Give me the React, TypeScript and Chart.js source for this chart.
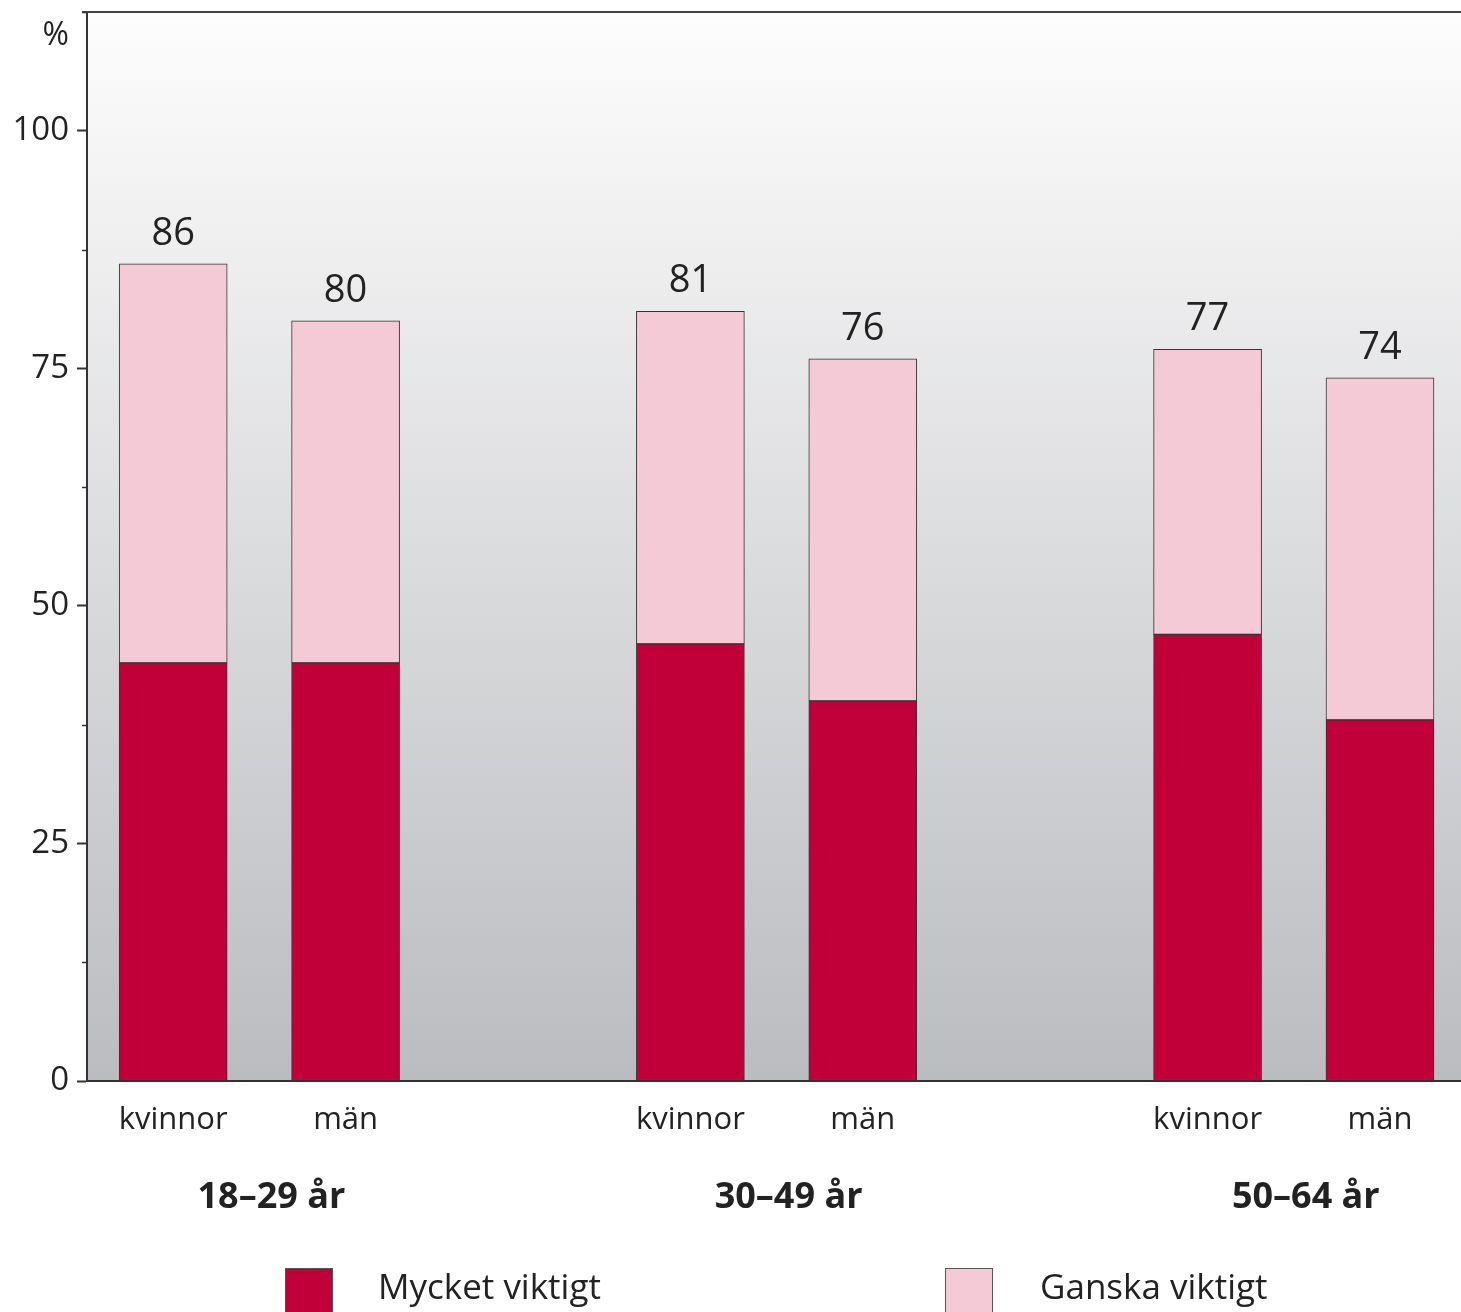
import React, { useEffect, useRef } from "react";
import { Chart, registerables } from "chart.js";

Chart.register(...registerables);

// ---- data ----
const groupLabels = ["18–29 år", "30–49 år", "50–64 år"];
const barLabels = ["kvinnor", "män", "kvinnor", "män", "kvinnor", "män"];
const barSlots = [0, 1, 3, 4, 6, 7];
const mycketViktigt = [44, 44, 46, 40, 47, 38];
const ganskaViktigt = [42, 36, 35, 36, 30, 36];
const totals = [86, 80, 81, 76, 77, 74];
const seriesNames = ["Mycket viktigt", "Ganska viktigt"];
const yLabelledTicks = [0, 25, 50, 75, 100];

const FONT = '"Open Sans", "Liberation Sans", sans-serif';
const DARK = "#c1003a";
const PINK = "#f3cad5";
const TEXT = "#222222";
const AXIS = "#333333";

const isMajor = (v: number) => yLabelledTicks.includes(v);

const decorPlugin = {
  id: "decor",
  beforeDraw(chart: any) {
    const { ctx, chartArea: a } = chart;
    const g = ctx.createLinearGradient(0, a.top, 0, a.bottom);
    g.addColorStop(0, "#fdfdfd");
    g.addColorStop(1, "#bbbcc0");
    ctx.save();
    ctx.fillStyle = g;
    ctx.fillRect(a.left, a.top, a.right - a.left, a.bottom - a.top);
    ctx.restore();
  },
  afterDatasetsDraw(chart: any) {
    const { ctx } = chart;
    const top = chart.getDatasetMeta(1);
    ctx.save();
    ctx.fillStyle = TEXT;
    ctx.font = `38px ${FONT}`;
    ctx.textAlign = "center";
    ctx.textBaseline = "alphabetic";
    top.data.forEach((el: any, i: number) => {
      ctx.fillText(String(totals[i]), el.x, el.y - 19);
    });
    ctx.restore();
  },
  afterDraw(chart: any) {
    const { ctx, chartArea: a, scales } = chart;
    const y = scales.y;
    const x = scales.x;
    ctx.save();
    // top frame line
    ctx.strokeStyle = "#444444";
    ctx.lineWidth = 2;
    ctx.beginPath();
    ctx.moveTo(a.left - 5, a.top);
    ctx.lineTo(a.right, a.top);
    ctx.stroke();
    // minor ticks
    ctx.lineWidth = 1.5;
    ctx.strokeStyle = AXIS;
    y.ticks.forEach((t: any) => {
      if (!isMajor(t.value)) {
        const py = Math.round(y.getPixelForValue(t.value)) + 0.5;
        ctx.beginPath();
        ctx.moveTo(a.left - 5, py);
        ctx.lineTo(a.left, py);
        ctx.stroke();
      }
    });
    // % label
    ctx.fillStyle = TEXT;
    ctx.font = `32px ${FONT}`;
    ctx.textAlign = "right";
    ctx.textBaseline = "alphabetic";
    ctx.fillText("%", 69, a.top + 33);
    // group labels
    ctx.font = `bold 36px ${FONT}`;
    ctx.textAlign = "center";
    groupLabels.forEach((lab, gi) => {
      const cx = (x.getPixelForValue(barSlots[gi * 2]) + x.getPixelForValue(barSlots[gi * 2 + 1])) / 2 + 12;
      ctx.fillText(lab, cx, a.bottom + 127);
    });
    // legend
    const items = [
      { x: 285, tx: 378 },
      { x: 945, tx: 1040 },
    ];
    ctx.font = `35px ${FONT}`;
    ctx.textAlign = "left";
    chart.data.datasets.forEach((ds: any, i: number) => {
      const it = items[i];
      ctx.fillStyle = ds.backgroundColor;
      ctx.fillRect(it.x, 1268, 47, 60);
      ctx.strokeStyle = "#555555";
      ctx.lineWidth = 1;
      ctx.strokeRect(it.x + 0.5, 1268.5, 47, 60);
      ctx.fillStyle = TEXT;
      ctx.fillText(ds.label, it.tx, 1299);
    });
    ctx.restore();
  },
};

export default function App() {
  const ref = useRef<HTMLCanvasElement | null>(null);

  useEffect(() => {
    if (!ref.current) return;
    const chart = new Chart(ref.current, {
      type: "bar",
      data: {
        datasets: [
          {
            label: seriesNames[0],
            data: barSlots.map((s, i) => ({ x: s, y: mycketViktigt[i] })),
            backgroundColor: DARK,
            borderColor: AXIS,
            borderWidth: 1,
            borderSkipped: false,
            barThickness: 108,
          },
          {
            label: seriesNames[1],
            data: barSlots.map((s, i) => ({ x: s, y: ganskaViktigt[i] })),
            backgroundColor: PINK,
            borderColor: AXIS,
            borderWidth: 1,
            borderSkipped: false,
            barThickness: 108,
          },
        ],
      },
      options: {
        responsive: false,
        animation: false,
        devicePixelRatio: 1,
        layout: { padding: { top: 12, left: 0, right: 0, bottom: 0 } },
        plugins: {
          legend: { display: false },
          tooltip: { enabled: false },
        },
        scales: {
          x: {
            type: "linear",
            stacked: true,
            offset: false,
            min: -0.5,
            max: 7.47,
            grid: { display: false, drawTicks: false, offset: false },
            border: { color: AXIS, width: 2 },
            afterBuildTicks: (s: any) => {
              s.ticks = barSlots.map((v) => ({ value: v }));
            },
            ticks: {
              autoSkip: false,
              maxRotation: 0,
              padding: 21,
              color: TEXT,
              font: { family: FONT, size: 31 },
              callback: (v: any) => {
                const i = barSlots.indexOf(Number(v));
                return i >= 0 ? barLabels[i] : "";
              },
            },
            afterFit: (s: any) => {
              s.height = 231;
            },
          },
          y: {
            stacked: true,
            min: 0,
            max: 112.5,
            grid: {
              drawOnChartArea: false,
              tickLength: 10,
              tickWidth: 2,
              tickColor: (c: any) => (c.tick && isMajor(c.tick.value) ? AXIS : "rgba(0,0,0,0)"),
            },
            border: { color: AXIS, width: 2 },
            ticks: {
              stepSize: 12.5,
              padding: 8,
              color: TEXT,
              font: (c: any) => ({
                family: FONT,
                size: c.tick && !isMajor(c.tick.value) ? 1 : 33,
              }),
              callback: (v: any) => (isMajor(Number(v)) ? String(v) : ""),
            },
            afterFit: (s: any) => {
              s.width = 87;
            },
          },
        },
      },
      plugins: [decorPlugin],
    } as any);
    return () => chart.destroy();
  }, []);

  return (
    <div style={{ position: "absolute", left: 0, top: 0, width: 1461, height: 1312, background: "#ffffff" }}>
      <canvas ref={ref} width={1461} height={1312} style={{ display: "block" }} />
    </div>
  );
}
